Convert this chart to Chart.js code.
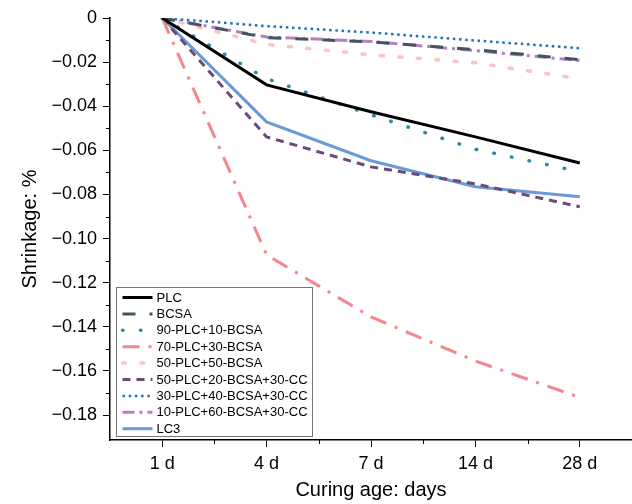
<!DOCTYPE html>
<html>
<head>
<meta charset="utf-8">
<script src="https://cdn.jsdelivr.net/npm/chart.js@4"></script>
<style>
  body { margin: 0; background: #fff; }
</style>
</head>
<body>
<canvas id="myChart" width="632" height="504"></canvas>
<script>
const days = ['1 d', '4 d', '7 d', '14 d', '28 d'];

const plc = [0, -0.0303, -0.0425, -0.0539, -0.0657];
const bcsa = [0, -0.0089, -0.0108, -0.0144, -0.0189];
const plc90bcsa10 = [0, -0.0275, -0.0439, -0.0595, -0.0697];
const plc70bcsa30 = [0, -0.1074, -0.1355, -0.1555, -0.1720];
const plc50bcsa50 = [0, -0.0119, -0.0167, -0.0203, -0.0276];
const plc50bcsa20cc30 = [0, -0.0539, -0.0675, -0.0752, -0.0856];
const plc30bcsa40cc30 = [0, -0.0037, -0.0066, -0.0102, -0.0137];
const plc10bcsa60cc30 = [0, -0.0086, -0.0106, -0.0148, -0.0193];
const lc3 = [0, -0.0471, -0.0647, -0.0765, -0.0810];

const yTicks = [0, -0.02, -0.04, -0.06, -0.08, -0.10, -0.12, -0.14, -0.16, -0.18];
const yMinorTicks = [-0.01, -0.03, -0.05, -0.07, -0.09, -0.11, -0.13, -0.15, -0.17];

const font = "'Liberation Sans', Arial, sans-serif";

function series(label, values, color, width, dash, cap) {
  return {
    label: label,
    data: values,
    borderColor: color,
    backgroundColor: color,
    borderWidth: width,
    borderDash: dash,
    borderCapStyle: cap || 'butt',
    pointRadius: 0,
    fill: false,
    tension: 0
  };
}

const datasets = [
  series('PLC', plc, '#000000', 3, []),
  series('BCSA', bcsa, '#3f5562', 3, [13, 14]),
  series('90-PLC+10-BCSA', plc90bcsa10, '#2a8aa5', 3.5, [0.5, 17.5], 'round'),
  series('70-PLC+30-BCSA', plc70bcsa30, '#f4868c', 3, [17, 9, 3, 9]),
  series('50-PLC+50-BCSA', plc50bcsa50, '#fbc3c6', 3.5, [3, 15.5], 'round'),
  series('50-PLC+20-BCSA+30-CC', plc50bcsa20cc30, '#6d4a7c', 3, [8, 6]),
  series('30-PLC+40-BCSA+30-CC', plc30bcsa40cc30, '#1b72b5', 2.5, [2.5, 3.7]),
  series('10-PLC+60-BCSA+30-CC', plc10bcsa60cc30, '#b77fc0', 3, [12, 5, 3, 5]),
  series('LC3', lc3, '#6a9bd6', 3, [])
];

// short outward minor ticks on both axes
const minorTicks = {
  id: 'minorTicks',
  afterDraw(chart) {
    const {ctx, chartArea, scales} = chart;
    ctx.save();
    ctx.strokeStyle = '#000';
    ctx.lineWidth = 1;
    ctx.beginPath();
    yMinorTicks.forEach(v => {
      const y = Math.round(scales.y.getPixelForValue(v)) + 0.5;
      ctx.moveTo(chartArea.left - 4, y);
      ctx.lineTo(chartArea.left, y);
    });
    for (let i = 0; i < days.length - 1; i++) {
      const x = Math.round((scales.x.getPixelForTick(i) + scales.x.getPixelForTick(i + 1)) / 2) + 0.5;
      ctx.moveTo(x, chartArea.bottom);
      ctx.lineTo(x, chartArea.bottom + 4);
    }
    ctx.stroke();
    ctx.restore();
  }
};

// legend boxed inside the plot, bottom left
const insideLegend = {
  id: 'insideLegend',
  afterDraw(chart) {
    const {ctx, chartArea} = chart;
    const left = chartArea.left + 6.5;
    const bottom = chartArea.bottom - 3.5;
    const w = 196, h = 149;
    const top = bottom - h;
    ctx.save();
    ctx.fillStyle = '#fff';
    ctx.fillRect(left, top, w, h);
    ctx.strokeStyle = '#777';
    ctx.lineWidth = 1;
    ctx.strokeRect(left, top, w, h);
    ctx.font = '13px ' + font;
    ctx.textBaseline = 'middle';
    chart.data.datasets.forEach((ds, i) => {
      const y = top + 10 + i * 16.4;
      ctx.beginPath();
      ctx.strokeStyle = ds.borderColor;
      ctx.lineWidth = ds.borderWidth;
      ctx.setLineDash(ds.borderDash);
      ctx.lineCap = ds.borderCapStyle;
      ctx.moveTo(left + 6, y);
      ctx.lineTo(left + 36, y);
      ctx.stroke();
      ctx.setLineDash([]);
      ctx.fillStyle = '#000';
      ctx.fillText(ds.label, left + 40, y + 0.5);
    });
    ctx.restore();
  }
};

const config = {
  type: 'line',
  data: {
    labels: days,
    datasets: datasets
  },
  options: {
    responsive: false,
    animation: false,
    layout: { padding: { top: 18, right: 0, left: 0, bottom: 0 } },
    plugins: {
      legend: { display: false },
      tooltip: { enabled: false }
    },
    scales: {
      x: {
        type: 'category',
        offset: true,
        grid: {
          offset: false,
          drawOnChartArea: false,
          tickLength: 7,
          tickColor: '#000'
        },
        border: { color: '#000', width: 1.5 },
        ticks: {
          color: '#000',
          padding: 6,
          font: { family: font, size: 18 }
        },
        title: {
          display: true,
          text: 'Curing age: days',
          color: '#000',
          font: { family: font, size: 20 },
          padding: { top: 0, bottom: 2 }
        },
        afterFit(scale) { scale.height = 64; }
      },
      y: {
        min: -0.1913,
        max: 0,
        afterBuildTicks(scale) {
          scale.ticks = yTicks.map(v => ({ value: v }));
        },
        grid: {
          drawOnChartArea: false,
          tickLength: 7,
          tickColor: '#000'
        },
        border: { color: '#000', width: 1.5 },
        ticks: {
          color: '#000',
          padding: 6,
          font: { family: font, size: 18 },
          callback: v => v === 0 ? '0' : '\u2212' + Math.abs(v).toFixed(2)
        },
        title: {
          display: true,
          text: 'Shrinkage: %',
          color: '#000',
          font: { family: font, size: 20 },
          padding: { top: 18, bottom: 0 }
        },
        afterFit(scale) { scale.width = 110; }
      }
    }
  },
  plugins: [minorTicks, insideLegend]
};

const chart = new Chart(document.querySelector('#myChart'), config);
</script>
</body>
</html>
